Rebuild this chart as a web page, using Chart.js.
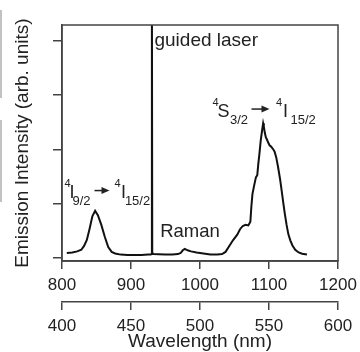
<!DOCTYPE html>
<html>
<head>
<meta charset="utf-8">
<script src="https://cdn.jsdelivr.net/npm/chart.js@4.4.0/dist/chart.umd.min.js"></script>
<style>
  html, body { margin: 0; padding: 0; background: #fff; }
  #wrap { position: relative; width: 360px; height: 352px; }
</style>
</head>
<body>
<div id="wrap"><canvas id="spectrum"></canvas></div>
<script>
// ── DATA ──────────────────────────────────────────────────────────────
const wavelength = [
  807, 815, 822, 828, 832, 836, 840, 844, 848, 852, 857, 862, 867, 872, 877, 885,
  895, 905, 915, 925, 928.5, 929.8, 930.3, 930.8, 933, 940, 950, 960, 968, 972,
  975, 978, 982, 987, 995, 1005, 1015, 1025, 1032, 1037, 1042, 1048, 1054, 1058,
  1062, 1066, 1070, 1073, 1074.5, 1076, 1078, 1081, 1083, 1084.5, 1086, 1088, 1090,
  1091.5, 1092.5, 1094, 1095.5, 1097, 1099, 1101, 1103, 1106, 1108, 1110.5, 1113,
  1116, 1118.5, 1121, 1123, 1125.5, 1128, 1131, 1134, 1138, 1143, 1148, 1155
];
const intensity = [
  0.08, 0.09, 0.11, 0.14, 0.21, 0.32, 0.53, 0.76, 0.86, 0.78, 0.60, 0.38, 0.19, 0.10, 0.07, 0.05,
  0.045, 0.045, 0.045, 0.05, 0.05, 0.06, 5.0, 0.08, 0.06, 0.055, 0.05, 0.05, 0.06, 0.08,
  0.13, 0.155, 0.13, 0.11, 0.09, 0.07, 0.05, 0.05, 0.06, 0.10, 0.20, 0.32, 0.42, 0.52,
  0.58, 0.60, 0.59, 0.66, 0.95, 1.17, 1.30, 1.48, 1.52, 1.73, 1.90, 2.16, 2.35,
  2.48, 2.42, 2.30, 2.22, 2.18, 2.12, 2.07, 2.05, 2.00, 1.96, 1.85, 1.68,
  1.45, 1.22, 0.98, 0.80, 0.60, 0.43, 0.31, 0.22, 0.14, 0.09, 0.065, 0.05
];
const bottomTicks = [800, 900, 1000, 1100, 1200];
const lowerTicks = [400, 450, 500, 550, 600];
const yTicks = [0, 1, 2, 3, 4];

const AXIS = '#444';
const TEXT = '#222';
const FONT = "'Liberation Sans', Arial, sans-serif";

Chart.defaults.font.family = FONT;
Chart.defaults.color = TEXT;

// text labels placed in data units, parts offset in px from the anchor
const notes = [
  { x: 934, y: 3.917, parts: [{ t: 'guided laser', size: 19, dx: 0, dy: 0 }] },
  { x: 942.3, y: 0.368, parts: [{ t: 'Raman', size: 18.5, dx: 0, dy: 0 }] },
  { x: 803.6, y: 1.106, parts: [
    { t: '4', size: 11, dx: 0, dy: -11 },
    { t: 'I', size: 18, dx: 5, dy: 0 },
    { t: '9/2', size: 13, dx: 8, dy: 7 },
    { arrow: [30, 45], dy: -7 },
    { t: '4', size: 11, dx: 50, dy: -11 },
    { t: 'I', size: 18, dx: 56.6, dy: 0 },
    { t: '15/2', size: 13, dx: 60.4, dy: 7 }
  ] },
  { x: 1018.1, y: 2.596, parts: [
    { t: '4', size: 11, dx: 0, dy: -11 },
    { t: 'S', size: 18, dx: 5, dy: 0 },
    { t: '3/2', size: 13, dx: 17.5, dy: 7 },
    { arrow: [39, 57], dy: -8 },
    { t: '4', size: 11, dx: 63.5, dy: -11 },
    { t: 'I', size: 18, dx: 70.5, dy: 0 },
    { t: '15/2', size: 13, dx: 78, dy: 7 }
  ] }
];

const notesPlugin = {
  id: 'notes',
  afterDraw(chart) {
    const { ctx, chartArea: a, scales } = chart;
    ctx.save();
    // frame: top and right sides of the box
    ctx.strokeStyle = AXIS;
    ctx.lineWidth = 1.5;
    ctx.strokeRect(a.left, a.top, a.right - a.left, a.bottom - a.top);

    // edge of the neighbouring panel in the original scan
    ctx.strokeStyle = '#999';
    ctx.lineWidth = 1.2;
    ctx.beginPath();
    ctx.moveTo(1, 10); ctx.lineTo(1, 98);
    ctx.moveTo(1, 120); ctx.lineTo(1, 202);
    ctx.stroke();

    ctx.fillStyle = TEXT;
    ctx.strokeStyle = TEXT;
    ctx.textBaseline = 'alphabetic';
    ctx.textAlign = 'left';
    notes.forEach(n => {
      const x0 = scales.x.getPixelForValue(n.x);
      const y0 = scales.y.getPixelForValue(n.y);
      n.parts.forEach(p => {
        if (p.arrow) {
          const xa = x0 + p.arrow[0], xb = x0 + p.arrow[1], y = y0 + p.dy;
          ctx.lineWidth = 1.5;
          ctx.beginPath();
          ctx.moveTo(xa, y); ctx.lineTo(xb - 5, y);
          ctx.stroke();
          ctx.beginPath();
          ctx.moveTo(xb, y); ctx.lineTo(xb - 8, y - 3.5); ctx.lineTo(xb - 8, y + 3.5);
          ctx.closePath();
          ctx.fill();
        } else {
          ctx.font = p.size + 'px ' + FONT;
          ctx.fillText(p.t, x0 + p.dx, y0 + p.dy);
        }
      });
    });
    ctx.restore();
  }
};

const setTicks = list => scale => { scale.ticks = list.map(v => ({ value: v })); };
const plain = v => String(v);

new Chart(document.getElementById('spectrum'), {
  type: 'line',
  data: {
    datasets: [{
      data: wavelength.map((w, i) => ({ x: w, y: intensity[i] })),
      borderColor: '#111',
      borderWidth: 2,
      pointRadius: 0,
      tension: 0,
      fill: false
    }]
  },
  options: {
    responsive: true, maintainAspectRatio: false,
    animation: false,
    devicePixelRatio: 1,
    layout: { padding: { top: 25, right: 22, bottom: 0, left: 0 } },
    plugins: { legend: { display: false }, tooltip: { enabled: false } },
    scales: {
      x: {
        type: 'linear', position: 'bottom', min: 800, max: 1200,
        afterBuildTicks: setTicks(bottomTicks),
        grid: { drawOnChartArea: false, tickLength: 8, color: AXIS, lineWidth: 1.5 },
        border: { display: true, color: AXIS, width: 1.5 },
        ticks: { font: { size: 17, lineHeight: 1.7 }, color: TEXT, padding: 2, maxRotation: 0, autoSkip: false, callback: plain }
      },
      x2: {
        type: 'linear', position: 'bottom', min: 400, max: 600,
        afterBuildTicks: setTicks(lowerTicks),
        grid: { drawOnChartArea: false, tickLength: 8, color: AXIS, lineWidth: 1.5 },
        border: { display: true, color: AXIS, width: 1.5 },
        ticks: { font: { size: 17, lineHeight: 1.73 }, color: TEXT, padding: 2, maxRotation: 0, autoSkip: false, callback: plain },
        title: {
          display: true, text: 'Wavelength (nm)', color: TEXT,
          font: { size: 19, lineHeight: 1 }, padding: { top: -10.9, bottom: 0.5 }
        }
      },
      y: {
        type: 'linear', position: 'left', min: -0.07, max: 4.3,
        afterBuildTicks: setTicks(yTicks),
        grid: { drawOnChartArea: false, tickLength: 9, color: AXIS, lineWidth: 1.5 },
        border: { display: true, color: AXIS, width: 1.5 },
        ticks: { display: false },
        title: {
          display: true, text: 'Emission Intensity (arb. units)', color: TEXT,
          font: { size: 19 }, padding: { top: 11, bottom: 19.2 }
        }
      }
    }
  },
  plugins: [notesPlugin]
});
</script>
</body>
</html>
